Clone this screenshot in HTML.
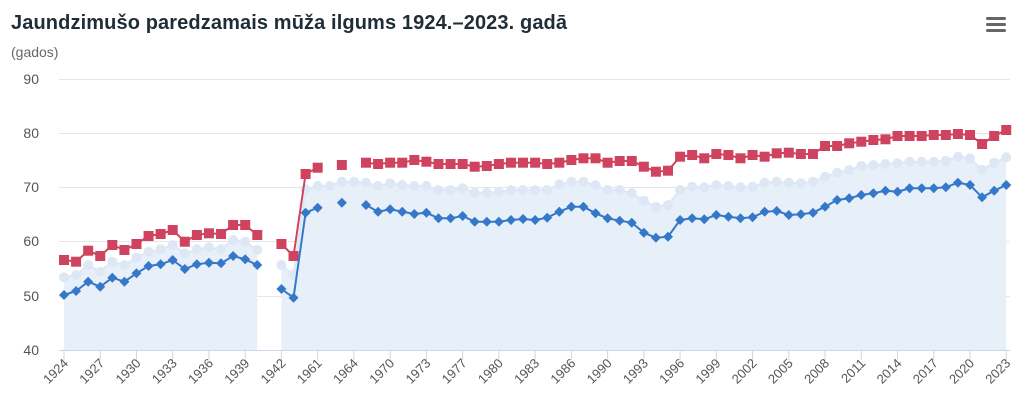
<!DOCTYPE html>
<html><head><meta charset="utf-8"><style>
html,body{margin:0;padding:0;background:#fff;}
svg{display:block;font-family:"Liberation Sans",sans-serif;}
</style></head><body>
<svg id="c" width="1020" height="402" viewBox="0 0 1020 402" xmlns="http://www.w3.org/2000/svg">
<text x="11" y="29" font-size="20" font-weight="bold" fill="#1f2d36" textLength="556">Jaundzimušo paredzamais mūža ilgums 1924.–2023. gadā</text>
<text x="11" y="57" font-size="14" fill="#666">(gados)</text>
<g fill="#666" stroke="none"><rect x="986" y="17" width="20" height="3" rx="1.5"/><rect x="986" y="23" width="20" height="3" rx="1.5"/><rect x="986" y="29" width="20" height="3" rx="1.5"/></g>
<g stroke="#e6e6e6" stroke-width="1">
<line x1="59" x2="1010" y1="79.5" y2="79.5"/><line x1="59" x2="1010" y1="133.5" y2="133.5"/><line x1="59" x2="1010" y1="187.5" y2="187.5"/><line x1="59" x2="1010" y1="241.5" y2="241.5"/><line x1="59" x2="1010" y1="296.5" y2="296.5"/>
</g>
<g font-size="14" fill="#555" text-anchor="end">
<text x="39" y="84">90</text><text x="39" y="138">80</text><text x="39" y="192">70</text><text x="39" y="246">60</text><text x="39" y="301">50</text><text x="39" y="355">40</text>
</g>
<g id="plot"></g>
<line x1="59" x2="1010" y1="350.5" y2="350.5" stroke="#ccd6eb" stroke-width="1"/>
<g id="ticks" stroke="#ccd6eb"></g>
<g font-size="13" fill="#555" text-anchor="end" id="xl">
<text>1924</text><text>1927</text><text>1930</text><text>1933</text><text>1936</text><text>1939</text><text>1942</text><text>1961</text><text>1964</text><text>1970</text><text>1973</text><text>1977</text><text>1980</text><text>1983</text><text>1986</text><text>1990</text><text>1993</text><text>1996</text><text>1999</text><text>2002</text><text>2005</text><text>2008</text><text>2011</text><text>2014</text><text>2017</text><text>2020</text><text>2023</text>
</g>
</svg>
<script>
var N=null;
var red=[260,261.7,250.7,256,245,250,244,236,234,230,241.7,235,233.3,234,225,225,235,N,244,256,174,167.7,N,165,N,162.7,164,162.7,162.7,160,161.7,164,164,164,166.7,166,164,162.7,162.7,162.7,164,162.7,160,158.3,158.3,162.7,161,161,166.7,
171.7,170.7,156.7,155,158.3,154,155,158.3,155,156.7,153.3,152.7,154,154,146,146,143.3,141.7,140,139.3,136,136,136,135,135,134,135,144,136,130];
var blue=[295,291,281.7,286.7,277.7,281.7,273.3,266,264.3,260,269,264.3,262.7,263.3,256,259.3,265,N,289,297.7,212.7,207.7,N,202.7,N,205,211.7,209.3,211.7,214,212.7,218.3,218.3,216,221.7,221.7,221.7,220,219,220,217.7,211.7,206.7,206.7,213.3,218.3,220.7,222.7,232.7,
237.7,236.7,220,218.3,219.3,215,216.7,218.3,217.3,211.7,211,215,214.3,212.7,206.7,200,198.3,195,193.3,190.7,191.7,188.3,188.3,188.3,187.3,182.7,185,197.3,190.7,185];
var pale=[277.3,275,265,271.7,261.7,265,257.7,251.7,249.3,245,253.3,249.3,247.3,249.3,240,241.7,250,N,265,275,189.3,186,186,181.7,181.7,182.7,186,183.3,185,186,186,190,190,188.3,192.7,192.7,191.7,190,190,190,190,184.3,181.7,181.7,185,190,190,193.3,200.7,
206.7,205,190,186.7,187.3,185,186,187.3,186.7,182.7,181.7,182.7,183.3,181.7,176.7,172.7,170,166,165,164,163.3,161.7,161.7,161.7,160.7,156.7,158.3,170,162.7,157.3];
function X(i){return 64+i*12.08;}
var ns="http://www.w3.org/2000/svg",plot=document.getElementById('plot');
function el(t,a,p){var e=document.createElementNS(ns,t);for(var k in a)e.setAttribute(k,a[k]);(p||plot).appendChild(e);return e;}
function segs(d){var s=[],c=[];d.forEach(function(v,i){if(v===N){if(c.length)s.push(c);c=[];}else c.push([X(i),v]);});if(c.length)s.push(c);return s;}
// area
segs(pale).forEach(function(s){var p='M'+s[0][0]+' 350';s.forEach(function(q){p+=' L'+q[0]+' '+q[1];});p+=' L'+s[s.length-1][0]+' 350Z';el('path',{d:p,fill:'#e7eff9'});});
function line(d,col,w){segs(d).forEach(function(s){if(s.length<2)return;el('path',{d:'M'+s.map(function(q){return q[0]+' '+q[1];}).join(' L'),fill:'none',stroke:col,'stroke-width':w});});}
line(pale,'#dde8f4',2);
pale.forEach(function(v,i){if(v!==N)el('circle',{cx:X(i),cy:v,r:5,fill:'#dde8f4'});});
line(red,'#d0435f',2);
red.forEach(function(v,i){if(v!==N)el('rect',{x:X(i)-5,y:v-5,width:10,height:10,fill:'#d0435f'});});
line(blue,'#3578c9',2);
blue.forEach(function(v,i){if(v!==N)el('path',{d:'M'+X(i)+' '+(v-5)+' l5 5 l-5 5 l-5 -5Z',fill:'#3578c9'});});
var tk=document.getElementById('ticks'),xl=document.getElementById('xl').children;
for(var j=0;j<27;j++){var x=X(j*3);el('line',{x1:x,x2:x,y1:350,y2:360},tk);
var t=xl[j];t.setAttribute('x',x+5);t.setAttribute('y',364);t.setAttribute('transform','rotate(-45 '+(x+5)+' 364)');}
</script>
</body></html>
